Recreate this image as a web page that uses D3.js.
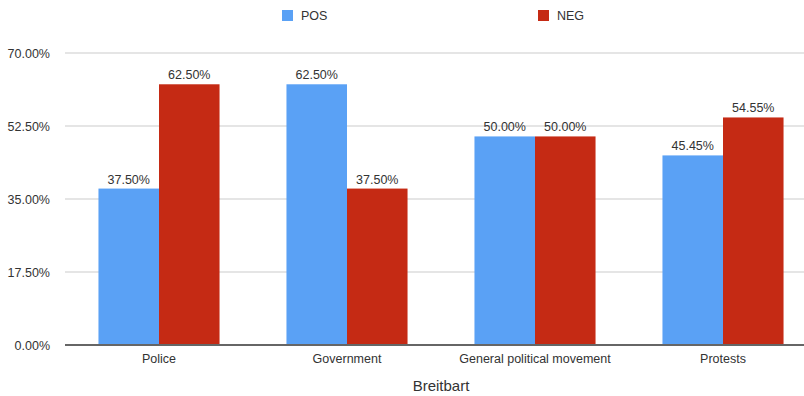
<!DOCTYPE html>
<html>
<head>
<meta charset="utf-8">
<script src="https://cdn.jsdelivr.net/npm/d3@7"></script>
<style>
  body { margin: 0; background: #fff; }
  text { font-family: "Liberation Sans", Arial, sans-serif; fill: #333; }
</style>
</head>
<body>
<div id="drawingArea"></div>
<script>
var categories = ["Police", "Government", "General political movement", "Protests"];
var series = ["POS", "NEG"];
var posValues = [37.50, 62.50, 50.00, 45.45];
var negValues = [62.50, 37.50, 50.00, 54.55];
var yTicks = [0, 17.5, 35, 52.5, 70];
var colors = ["#5aa1f5", "#c52a14"];

var width = 804, height = 396;
var margin = {top: 53, right: 0, bottom: 51, left: 65};

var svg = d3.select("#drawingArea").append("svg")
    .attr("width", width)
    .attr("height", height);

var x = d3.scaleBand()
    .domain(categories)
    .range([margin.left, margin.left + 752])
    .paddingInner(0.356)
    .paddingOuter(0.178);

var xs = d3.scaleBand()
    .domain(series)
    .range([0, x.bandwidth()]);

var y = d3.scaleLinear()
    .domain([0, 70])
    .range([height - margin.bottom, margin.top]);

var fmt = function(v) { return v.toFixed(2) + "%"; };

// gridlines
svg.append("g")
    .selectAll("line")
    .data(yTicks.filter(function(d) { return d > 0; }))
    .enter().append("line")
    .attr("x1", margin.left)
    .attr("x2", width)
    .attr("y1", function(d) { return y(d); })
    .attr("y2", function(d) { return y(d); })
    .attr("stroke", "#dcdcdc")
    .attr("stroke-width", 1.5);

// y axis labels
svg.append("g")
    .selectAll("text")
    .data(yTicks)
    .enter().append("text")
    .attr("x", 50)
    .attr("y", function(d) { return y(d) + 4.5; })
    .attr("text-anchor", "end")
    .attr("font-size", 12.5)
    .text(fmt);

// bars
var rows = categories.map(function(c, i) {
    return {cat: c, vals: [posValues[i], negValues[i]]};
});

var groups = svg.selectAll(".group")
    .data(rows)
    .enter().append("g")
    .attr("class", "group")
    .attr("transform", function(d) { return "translate(" + x(d.cat) + ",0)"; });

groups.selectAll("rect")
    .data(function(d) { return d.vals.map(function(v, j) { return {s: series[j], v: v, j: j}; }); })
    .enter().append("rect")
    .attr("x", function(d) { return xs(d.s); })
    .attr("width", xs.bandwidth())
    .attr("y", function(d) { return y(d.v); })
    .attr("height", function(d) { return y(0) - y(d.v); })
    .attr("fill", function(d) { return colors[d.j]; });

groups.selectAll(".val")
    .data(function(d) { return d.vals.map(function(v, j) { return {s: series[j], v: v}; }); })
    .enter().append("text")
    .attr("class", "val")
    .attr("x", function(d) { return xs(d.s) + xs.bandwidth() / 2; })
    .attr("y", function(d) { return y(d.v) - 5; })
    .attr("text-anchor", "middle")
    .attr("font-size", 12.5)
    .text(function(d) { return fmt(d.v); });

// baseline
svg.append("line")
    .attr("x1", margin.left)
    .attr("x2", width)
    .attr("y1", y(0))
    .attr("y2", y(0))
    .attr("stroke", "#666")
    .attr("stroke-width", 2);

// category labels
svg.append("g")
    .selectAll("text")
    .data(categories)
    .enter().append("text")
    .attr("x", function(d) { return x(d) + x.bandwidth() / 2; })
    .attr("y", y(0) + 18)
    .attr("text-anchor", "middle")
    .attr("font-size", 12.5)
    .text(function(d) { return d; });

// axis title
svg.append("text")
    .attr("x", (x(categories[0]) + x(categories[3]) + x.bandwidth()) / 2)
    .attr("y", 391)
    .attr("text-anchor", "middle")
    .attr("font-size", 15)
    .text("Breitbart");

// legend
var legendX = [282, 538];
var legend = svg.selectAll(".legend")
    .data(series)
    .enter().append("g")
    .attr("class", "legend")
    .attr("transform", function(d, i) { return "translate(" + legendX[i] + ",10)"; });

legend.append("rect")
    .attr("width", 11)
    .attr("height", 11)
    .attr("fill", function(d, i) { return colors[i]; });

legend.append("text")
    .attr("x", 19)
    .attr("y", 10)
    .attr("font-size", 12.5)
    .text(function(d) { return d; });
</script>
</body>
</html>
